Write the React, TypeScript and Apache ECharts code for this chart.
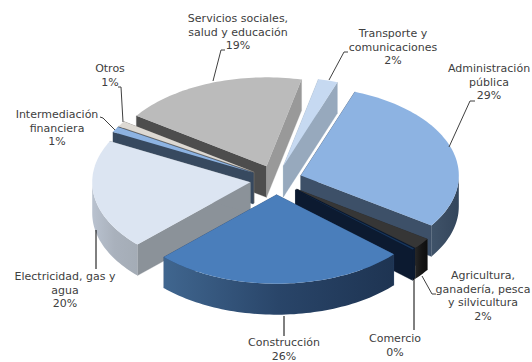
import React, { useEffect, useRef } from "react";
import * as echarts from "echarts";

const categories = [
  "Administración\npública",
  "Agricultura,\nganadería, pesca\ny silvicultura",
  "Comercio",
  "Construcción",
  "Electricidad, gas y\nagua",
  "Intermediación\nfinanciera",
  "Otros",
  "Servicios sociales,\nsalud y educación",
  "Transporte y\ncomunicaciones",
];
const shares = [29, 2, 0.2, 26, 20, 1, 1, 19, 2];

// Fill per slice: top face, outer wall gradient stops, leading cut, trailing cut
const topColors = ["#8DB3E2", "#363636", "#17365D", "#4A7EBB", "#DCE5F2", "#8DB3E2", "#DDD9D3", "#BBBBBB", "#C6D9F1"];
const wallLeft = ["#3F5369", "#262626", "#0C1A30", "#40668F", "#B9C2CF", "#3F5369", "#85827E", "#707070", "#97A9BD"];
const wallMid = ["#3A4C62", "#161616", "#0C1A30", "#294569", "#A9B1BC", "#3A4C62", "#85827E", "#707070", "#97A9BD"];
const wallRight = ["#33465C", "#0E0E0E", "#0C1A30", "#1E3452", "#A4ACB6", "#33465C", "#85827E", "#707070", "#97A9BD"];
const startCut = ["#3A4C62", "#2A2A2A", "#0C1A30", "#2A4870", "#8B9299", "#37495F", "#706E6A", "#4D4D4D", "#97A9BD"];
const endCut = ["#3D5068", "#0C1A30", "#0C1A30", "#2A4870", "#8B9299", "#37495F", "#706E6A", "#999999", "#97A9BD"];

// Label placement (centre x, top y) and leader polyline for each slice
const labelAnchors = [
  [489, 62], [483, 269], [395, 332], [284, 336], [65, 270], [57, 108], [110, 62], [238, 12], [393, 27],
];
const leaderPaths = [
  [[449, 147], [470, 101], [475, 101]],
  [[422, 276], [432, 294], [436, 294]],
  [[414, 278], [414, 330]],
  [[284, 316], [284, 336]],
  [[96, 230], [96, 269]],
  [[115, 130], [103, 118], [100, 117]],
  [[123, 122], [121, 87], [118, 87]],
  [[213, 81], [221, 50], [225, 50]],
  [[329, 80], [344, 52], [348, 52]],
];
const leaderColors = ["#404040", "#404040", "#000000", "#000000", "#000000", "#404040", "#404040", "#404040", "#404040"];

const CX = 276;
const CY = 180;
const RX = 158;
const RY = 89;
const DEPTH = 31;
const EXPLODE = 0.165;
const START_ANGLE = 20;
const TOTAL = shares.reduce((a, b) => a + b, 0);

const rad = (deg: number) => (deg * Math.PI) / 180;

function sliceRange(index: number) {
  let acc = START_ANGLE;
  for (let i = 0; i < index; i++) acc += (shares[i] / TOTAL) * 360;
  return [acc, acc + (shares[index] / TOTAL) * 360];
}

function arcPoints(ax: number, ay: number, from: number, to: number) {
  const steps = Math.max(2, Math.ceil(Math.abs(to - from) / 1.5));
  const pts: number[][] = [];
  for (let k = 0; k <= steps; k++) {
    const t = rad(from + ((to - from) * k) / steps);
    pts.push([ax + RX * Math.sin(t), ay - RY * Math.cos(t)]);
  }
  return pts;
}

function renderSlice(params: any, api: any) {
  const i = api.value(0) as number;
  const [a0, a1] = sliceRange(i);
  const mid = rad((a0 + a1) / 2);
  const ax = CX + EXPLODE * RX * Math.sin(mid);
  const ay = CY - EXPLODE * RY * Math.cos(mid);
  const children: any[] = [];

  const cut = (angle: number, fill: string) => {
    const t = rad(angle);
    const rx = ax + RX * Math.sin(t);
    const ry = ay - RY * Math.cos(t);
    children.push({
      type: "polygon",
      shape: { points: [[ax, ay], [rx, ry], [rx, ry + DEPTH], [ax, ay + DEPTH]] },
      style: { fill, stroke: fill, lineWidth: 0.3 },
    });
  };
  cut(a0, startCut[i]);
  cut(a1, endCut[i]);

  // Outer wall shows only on the near half of the ellipse
  for (const shift of [0, 360]) {
    const lo = Math.max(a0, 90 + shift);
    const hi = Math.min(a1, 270 + shift);
    if (hi > lo) {
      const arc = arcPoints(ax, ay, lo, hi);
      const lower = arc.map(([x, y]) => [x, y + DEPTH]).reverse();
      const xs = arc.map((p) => p[0]);
      const x0 = Math.min(...xs);
      const x1 = Math.max(...xs);
      const fill = new echarts.graphic.LinearGradient(x0, 0, x1, 0, [
        { offset: 0, color: wallLeft[i] },
        { offset: 0.5, color: wallMid[i] },
        { offset: 1, color: wallRight[i] },
      ], true);
      children.push({
        type: "polygon",
        shape: { points: arc.concat(lower) },
        style: { fill },
      });
    }
  }

  children.push({
    type: "polygon",
    shape: { points: [[ax, ay], ...arcPoints(ax, ay, a0, a1)] },
    style: { fill: topColors[i] },
  });
  return { type: "group", children };
}

// Slices are painted from the far side of the pie to the near side
function paintOrder() {
  return shares
    .map((_, i) => {
      const [a0, a1] = sliceRange(i);
      return { i, depth: -Math.cos(rad((a0 + a1) / 2)) };
    })
    .sort((a, b) => a.depth - b.depth)
    .map((d) => d.i);
}

export default function App() {
  const ref = useRef<HTMLDivElement>(null);
  useEffect(() => {
    document.body.style.margin = "0";
    const chart = echarts.init(ref.current!, undefined, { renderer: "svg" });
    const texts = categories.map((name, i) => ({
      type: "text",
      z: 10,
      style: {
        text: `${name}\n${Math.round(shares[i])}%`,
        x: labelAnchors[i][0],
        y: labelAnchors[i][1],
        textAlign: "center",
        textVerticalAlign: "top",
        fontFamily: "DejaVu Sans",
        fontSize: 11,
        lineHeight: 13.5,
        fill: "#404040",
      },
    }));
    const leaders = leaderPaths.map((points, i) => ({
      type: "polyline",
      z: 9,
      shape: { points },
      style: { stroke: leaderColors[i], lineWidth: 1, fill: "none" },
    }));
    chart.setOption({
      animation: false,
      backgroundColor: "#FFFFFF",
      graphic: [...leaders, ...texts],
      series: [
        {
          type: "custom",
          coordinateSystem: "none",
          silent: true,
          clip: false,
          renderItem: renderSlice,
          data: paintOrder().map((i) => ({ name: categories[i], value: [i, shares[i]] })),
        },
      ],
    });
    return () => chart.dispose();
  }, []);
  return <div ref={ref} style={{ position: "fixed", left: 0, top: 0, width: 532, height: 362 }} />;
}
